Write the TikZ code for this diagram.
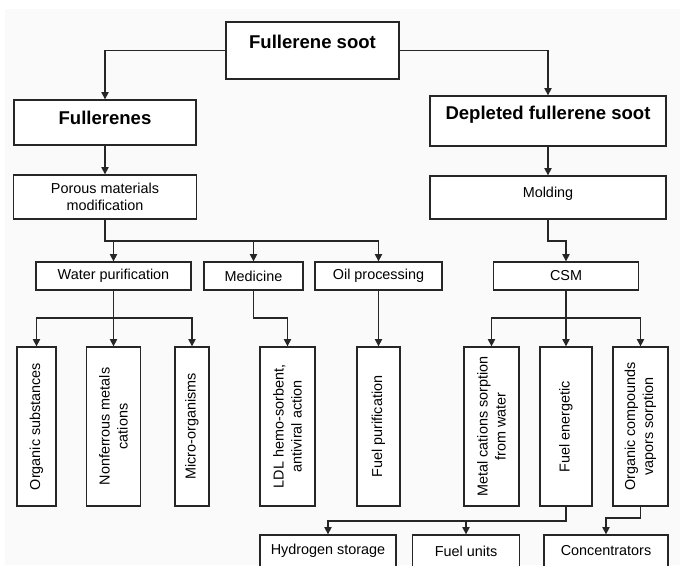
\documentclass[tikz,border=0pt]{standalone}
\usepackage{fontspec}
\setmainfont{Liberation Sans}
\usetikzlibrary{arrows.meta}
\begin{document}
\begin{tikzpicture}[x=0.75pt,y=-0.75pt,
  box/.style={draw=black!85, fill=white, line width=1pt, inner sep=0pt,
    align=center, font=\fontsize{10.8pt}{13pt}\selectfont},
  head/.style={box, font=\fontsize{13.9pt}{16pt}\selectfont\bfseries},
  sz/.style 2 args={minimum width=#1*0.75pt, minimum height=#2*0.75pt},
  lift/.style={text depth=#1*0.75pt},
  tall/.style={box, rotate=90, font=\fontsize{10.8pt}{13.5pt}\selectfont,
    minimum width=159*0.75pt, minimum height=#1*0.75pt},
  link/.style={draw=black!85, line width=1pt},
  arr/.style={link, -{Triangle[length=5.5pt,width=5.5pt]}},
]
% page and background
\clip (0,0) rectangle (680,565);
\fill[white] (0,0) rectangle (680,565);
\fill[black!2] (5,9) rectangle (680,565);

% top levels
\node[head, sz={173}{57}, lift=17] (soot) at (312.5,50.5) {Fullerene soot};
\node[head, sz={182}{45}, lift=9] (fullerenes) at (105,122.5) {Fullerenes};
\node[head, sz={236}{50}, lift=16] (depleted) at (548,121) {Depleted fullerene soot};
\node[box, sz={183}{44}] (porous) at (105,197) {Porous materials\\modification};
\node[box, sz={236}{43}, lift=11] (molding) at (548,197.5) {Molding};

% application areas
\node[box, sz={155}{28}] (water) at (113.5,276) {Water purification};
\node[box, sz={99}{28}] (medicine) at (253.5,276) {Medicine};
\node[box, sz={127}{28}] (oil) at (378.5,276) {Oil processing};
\node[box, sz={145}{28}] (csm) at (566,276) {CSM};

% vertical leaves (rotated: east = top, west = bottom)
\node[tall=39] (organic) at (36.5,426.5) {Organic substances};
\node[tall=54] (nonferrous) at (113.5,426.5) {Nonferrous metals\\cations};
\node[tall=34] (micro) at (192,426.5) {Micro-organisms};
\node[tall=55] (ldl) at (287.5,426.5) {LDL hemo-sorbent,\\antiviral action};
\node[tall=43] (fuelpur) at (378.5,426.5) {Fuel purification};
\node[tall=55] (metal) at (491.5,426.5) {Metal cations sorption\\from water};
\node[tall=52] (fuelen) at (566,426.5) {Fuel energetic};
\node[tall=55] (orgvap) at (640.5,426.5) {Organic compounds\\vapors sorption};

% bottom row
\node[box, sz={136}{32}] (hydrogen) at (328,551) {Hydrogen storage};
\node[box, sz={107}{32}] (fuelunits) at (466,551) {Fuel units};
\node[box, sz={124}{32}] (concentrators) at (606,551) {Concentrators};

% connectors
\draw[arr] (soot.west) -| (fullerenes.north);
\draw[arr] (soot.east) -| (depleted.north);
\draw[arr] (fullerenes.south) -- (porous.north);
\draw[arr] (depleted.south) -- (molding.north);

\coordinate (b1) at (378.5,241);
\draw[arr] (porous.south) |- (b1) -- (oil.north);
\draw[arr] (water.north |- b1) -- (water.north);
\draw[arr] (medicine.north |- b1) -- (medicine.north);
\draw[arr] (molding.south) |- (csm.north |- b1) -- (csm.north);

\coordinate (b2) at (113.5,318);
\draw[link] (water.south) -- (b2);
\draw[arr] (b2) -| (organic.east);
\draw[arr] (b2) -| (micro.east);
\draw[arr] (b2) -- (nonferrous.east);
\draw[arr] (medicine.south) |- (ldl.east |- b2) -- (ldl.east);
\draw[arr] (oil.south) -- (fuelpur.east);

\coordinate (b3) at (566,318);
\draw[arr] (csm.south) -- (fuelen.east);
\draw[arr] (b3) -| (metal.east);
\draw[arr] (b3) -| (orgvap.east);

\coordinate (b4) at (566,521);
\draw[arr] (fuelen.west) |- (hydrogen.north |- b4) -- (hydrogen.north);
\draw[arr] (fuelunits.north |- b4) -- (fuelunits.north);
\coordinate (b5) at (606,518);
\draw[arr] (orgvap.west) |- (concentrators.north |- b5) -- (concentrators.north);
\end{tikzpicture}
\end{document}
